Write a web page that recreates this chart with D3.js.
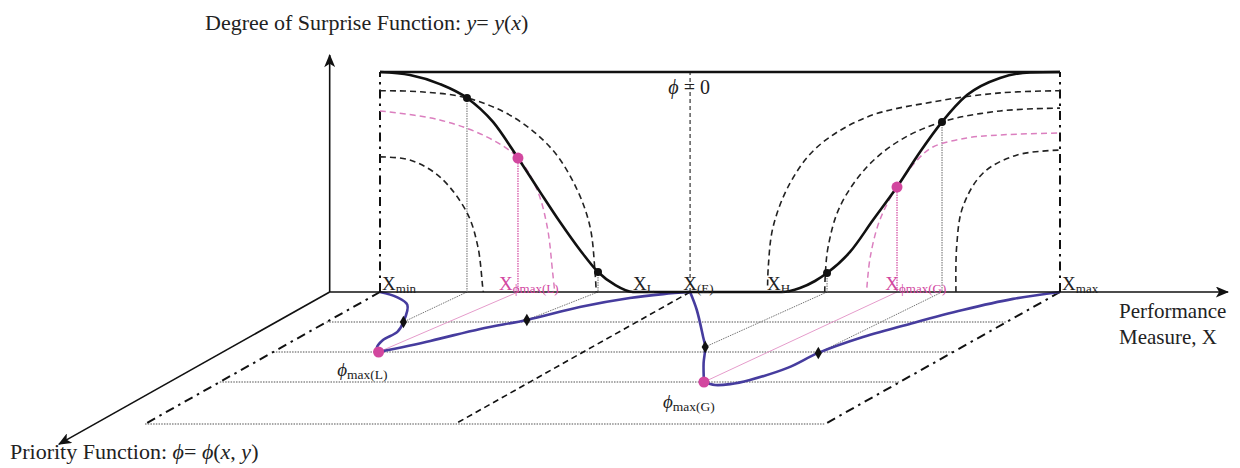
<!DOCTYPE html>
<html>
<head>
<meta charset="utf-8">
<script src="https://cdn.jsdelivr.net/npm/d3@7"></script>
<style>
  body { margin: 0; background: #fff; }
  text { font-family: "Liberation Serif", "Times New Roman", serif; fill: #222; }
</style>
</head>
<body>
<div id="chart"></div>
<script>
var svgWidth = 1240;
var svgHeight = 468;

// ---- data (performance measure x: Xmin = 0 .. Xmax = 100, surprise y: 0..1, priority depth phi) ----
var surpriseCurve = [[0,1],[4.41,0.986],[8.82,0.945],[12.79,0.882],[16.62,0.773],[20.29,0.609],[23.53,0.455],
  [26.47,0.318],[29.41,0.191],[32.06,0.091],[34.56,0.032],[37.2,0],[59.1,0],[61.76,0.018],[63.97,0.05],
  [65.74,0.086],[69.12,0.182],[72.5,0.327],[76.03,0.477],[79.41,0.636],[82.65,0.773],[86.32,0.895],
  [91.18,0.973],[95.59,0.998],[100,1]];

var dashedBlack = [
  [[0,0.915],[6,0.91],[12.8,0.882],[19.6,0.795],[25.4,0.645],[29,0.464],[30.9,0.295],[31.6,0.1],[31.8,0]],
  [[0,0.614],[4.4,0.6],[8.8,0.523],[12.8,0.36],[14.4,0.205],[15.1,0.023],[15.2,0]],
  [[57,0.03],[57.1,0.114],[57.8,0.295],[60.3,0.495],[64.3,0.659],[71.6,0.795],[81.3,0.864],[91.2,0.905],[100,0.915]],
  [[65.4,0],[65.5,0.086],[65.9,0.205],[67.6,0.386],[71.6,0.568],[76.5,0.69],[82.6,0.773],[91.2,0.823],[100,0.836]],
  [[84.7,0],[84.8,0.205],[85.7,0.386],[88.7,0.541],[93.7,0.623],[100,0.645]]
];
var dashedPink = [
  [[0,0.823],[8.8,0.782],[15.7,0.705],[20.3,0.609],[23.1,0.464],[24.6,0.295],[25.4,0.086],[25.7,0]],
  [[71.6,0.02],[72.1,0.16],[73.5,0.327],[76,0.477],[79,0.6],[81.3,0.659],[86.3,0.7],[91.2,0.714],[100,0.723]]
];

var blackDots = [[12.79,0.882],[32.06,0.091],[65.74,0.086],[82.65,0.773]];
var pinkDots = [[20.29,0.609],[76.03,0.477]];

var xMarks = [
  {sub: "min", x: 0.3, pink: false},
  {sub: "\u03d5max(L)", x: 17.5, pink: true},
  {sub: "L", x: 37.2, pink: false},
  {sub: "(E)", x: 44.6, pink: false},
  {sub: "H", x: 56.9, pink: false},
  {sub: "\u03d5max(G)", x: 74.3, pink: true},
  {sub: "max", x: 100.3, pink: false}
];
var xE = 45.6;

// floor (priority function) in [x, phi]
var phiGrid = [1, 2, 3, 4.4];
var phiEnd = 4.4;
var blueLeftDown = [[0,0],[3.8,0.17],[7.4,0.43],[11.3,1],[13,1.33],[13,1.6],[14.2,1.87],[15.5,2]];
var blueLeftUp = [[15.5,2],[20.2,1.63],[24.4,1.23],[28.9,0.93],[33.3,0.5],[38.3,0.2],[42.2,0.07],[45.6,0]];
var blueRightDown = [[45.6,0],[51.3,0.6],[59.3,1.5],[62.2,1.83],[66.2,2.37],[71.2,3]];
var blueRightUp = [[71.2,3],[73.6,3.1],[75.6,3.07],[77.4,2.93],[79.8,2.53],[80.4,2.03],[82.8,1.5],[86.5,1.03],
  [90.4,0.6],[94.9,0.23],[100,0]];
var floorDiamonds = [[11.3,1],[28.9,0.93],[62.2,1.83],[80.4,2.03]];
var floorPink = [[15.5,2],[71.2,3]];
// surface x -> floor point
var connectors = [
  {from: 12.79, to: [11.3,1], pink: false},
  {from: 20.29, to: [15.5,2], pink: true},
  {from: 32.06, to: [28.9,0.93], pink: false},
  {from: 65.74, to: [62.2,1.83], pink: false},
  {from: 76.03, to: [71.2,3], pink: true},
  {from: 82.65, to: [80.4,2.03], pink: false}
];
var phiMaxLabels = [{sub: "max(L)", at: [15.7, 2.8]}, {sub: "max(G)", at: [72, 3.87]}];

var axisOrigin = -7.4, axisXEnd = 124.7, axisYEnd = 1.077, axisPhiEnd = 5.07;

// ---- scales ----
var xScale = d3.scaleLinear().domain([0, 100]).range([380, 1060]);
var yScale = d3.scaleLinear().domain([0, 1]).range([292, 72]);
var phiScale = d3.scaleLinear().domain([0, 1]).range([0, 30]);
var slant = 1.78;

function floorPt(d) {
  var dy = phiScale(d[1]);
  return [xScale(d[0]) - slant * dy, yScale(0) + dy];
}
function surfPt(d) { return [xScale(d[0]), yScale(d[1])]; }

var svg = d3.select("#chart").append("svg")
  .attr("width", svgWidth)
  .attr("height", svgHeight);

svg.append("defs").append("marker")
  .attr("id", "arrow")
  .attr("viewBox", "0 -5 12 10")
  .attr("refX", 11).attr("refY", 0)
  .attr("markerUnits", "userSpaceOnUse")
  .attr("markerWidth", 14).attr("markerHeight", 11)
  .attr("orient", "auto")
  .append("path").attr("d", "M0,-5L12,0L0,5L3,0Z").attr("fill", "#111");

var smooth = d3.line().curve(d3.curveCatmullRom.alpha(0.5));
var mono = d3.line().curve(d3.curveMonotoneX);
var straight = d3.line();

var pink = "#d2479f";

// ---- floor ----
var floor = svg.append("g");
phiGrid.forEach(function(p) {
  floor.append("path")
    .attr("d", straight([floorPt([0, p]), floorPt([100, p])]))
    .attr("stroke", "#8a8a8a").attr("stroke-width", 1.3)
    .attr("stroke-dasharray", "1.5,1.2").attr("fill", "none");
});
[0, 100].forEach(function(x) {
  floor.append("path")
    .attr("d", straight([floorPt([x, 0]), floorPt([x, phiEnd])]))
    .attr("stroke", "#111").attr("stroke-width", 2)
    .attr("stroke-dasharray", "9,5,2.5,5").attr("fill", "none");
});
floor.append("path")
  .attr("d", straight([floorPt([xE, 0]), floorPt([xE, phiEnd])]))
  .attr("stroke", "#111").attr("stroke-width", 1.6)
  .attr("stroke-dasharray", "6,4").attr("fill", "none");

connectors.forEach(function(c) {
  floor.append("path")
    .attr("d", straight([floorPt([c.from, 0]), floorPt(c.to)]))
    .attr("stroke", c.pink ? "#e59ccb" : "#777")
    .attr("stroke-width", 1)
    .attr("stroke-dasharray", c.pink ? null : "1.5,1")
    .attr("fill", "none");
});

// ---- axes ----
var axes = svg.append("g");
axes.append("path")
  .attr("d", straight([surfPt([axisOrigin, 0]), surfPt([axisXEnd, 0])]))
  .attr("stroke", "#111").attr("stroke-width", 1.6).attr("marker-end", "url(#arrow)");
axes.append("path")
  .attr("d", straight([surfPt([axisOrigin, 0]), surfPt([axisOrigin, axisYEnd])]))
  .attr("stroke", "#111").attr("stroke-width", 1.6).attr("marker-end", "url(#arrow)");
axes.append("path")
  .attr("d", straight([floorPt([axisOrigin, 0]), floorPt([axisOrigin, axisPhiEnd])]))
  .attr("stroke", "#111").attr("stroke-width", 1.6).attr("marker-end", "url(#arrow)");

// ---- surface (degree of surprise) ----
var surf = svg.append("g");
[0, 100].forEach(function(x) {
  surf.append("path")
    .attr("d", straight([surfPt([x, 0]), surfPt([x, 1])]))
    .attr("stroke", "#111").attr("stroke-width", 2)
    .attr("stroke-dasharray", "9,5,2.5,5").attr("fill", "none");
});
surf.append("path")
  .attr("d", straight([surfPt([xE, 0]), surfPt([xE, 1])]))
  .attr("stroke", "#333").attr("stroke-width", 1.2)
  .attr("stroke-dasharray", "4,3").attr("fill", "none");

blackDots.forEach(function(d) {
  surf.append("path")
    .attr("d", straight([surfPt(d), surfPt([d[0], 0])]))
    .attr("stroke", "#777").attr("stroke-width", 1.1)
    .attr("stroke-dasharray", "1.5,1").attr("fill", "none");
});
pinkDots.forEach(function(d) {
  surf.append("path")
    .attr("d", straight([surfPt(d), surfPt([d[0], 0])]))
    .attr("stroke", pink).attr("stroke-width", 1.2)
    .attr("stroke-dasharray", "1.5,1").attr("fill", "none");
});

dashedBlack.forEach(function(c) {
  surf.append("path")
    .attr("d", smooth(c.map(surfPt)))
    .attr("stroke", "#222").attr("stroke-width", 1.6)
    .attr("stroke-dasharray", "6,4").attr("fill", "none");
});
dashedPink.forEach(function(c) {
  surf.append("path")
    .attr("d", smooth(c.map(surfPt)))
    .attr("stroke", "#db7fbf").attr("stroke-width", 1.5)
    .attr("stroke-dasharray", "6,4").attr("fill", "none");
});

surf.append("path")
  .attr("d", straight([surfPt([0, 1]), surfPt([100, 1])]))
  .attr("stroke", "#111").attr("stroke-width", 2.6);
surf.append("path")
  .attr("d", mono(surpriseCurve.map(surfPt)))
  .attr("stroke", "#111").attr("stroke-width", 2.6).attr("fill", "none");

surf.selectAll(".bdot").data(blackDots).enter().append("circle")
  .attr("cx", d => xScale(d[0])).attr("cy", d => yScale(d[1]))
  .attr("r", 4).attr("fill", "#111");
surf.selectAll(".pdot").data(pinkDots).enter().append("circle")
  .attr("cx", d => xScale(d[0])).attr("cy", d => yScale(d[1]))
  .attr("r", 5.5).attr("fill", pink);

// ---- blue priority curves on the floor ----
[blueLeftDown, blueLeftUp, blueRightDown, blueRightUp].forEach(function(c) {
  floor.append("path")
    .attr("d", smooth(c.map(floorPt)))
    .attr("stroke", "#463c9e").attr("stroke-width", 2.6)
    .attr("stroke-linejoin", "round").attr("fill", "none");
});
floor.selectAll(".dia").data(floorDiamonds).enter().append("path")
  .attr("d", d3.symbol(d3.symbolDiamond).size(45))
  .attr("transform", d => "translate(" + floorPt(d) + ")")
  .attr("fill", "#111");
floor.selectAll(".fpink").data(floorPink).enter().append("circle")
  .attr("cx", d => floorPt(d)[0]).attr("cy", d => floorPt(d)[1])
  .attr("r", 5.5).attr("fill", pink);

// ---- labels ----
var labels = svg.append("g");
xMarks.forEach(function(m) {
  var col = m.pink ? pink : "#222";
  var t = labels.append("text")
    .attr("x", xScale(m.x)).attr("y", 290)
    .style("font-size", "19px");
  t.append("tspan").text("X").style("fill", col);
  t.append("tspan").text(m.sub).attr("dy", 3)
    .style("font-size", "13px").style("fill", col);
});

var phi0 = labels.append("text").attr("x", xScale(42.4)).attr("y", 94).style("font-size", "20px");
phi0.append("tspan").text("\u03d5").style("font-style", "italic");
phi0.append("tspan").text(" = 0");

phiMaxLabels.forEach(function(l) {
  var p = floorPt(l.at);
  var t = labels.append("text").attr("x", p[0]).attr("y", p[1]).style("font-size", "19px");
  t.append("tspan").text("\u03d5").style("font-style", "italic");
  t.append("tspan").text(l.sub).attr("dy", 3).style("font-size", "13.5px");
});

var title = labels.append("text").attr("x", 205).attr("y", 30).style("font-size", "22px");
title.append("tspan").text("Degree of Surprise Function: ");
title.append("tspan").text("y").style("font-style", "italic");
title.append("tspan").text("= ");
title.append("tspan").text("y").style("font-style", "italic");
title.append("tspan").text("(");
title.append("tspan").text("x").style("font-style", "italic");
title.append("tspan").text(")");

var pr = labels.append("text").attr("x", 10).attr("y", 459).style("font-size", "22px");
pr.append("tspan").text("Priority Function: ");
pr.append("tspan").text("\u03d5").style("font-style", "italic");
pr.append("tspan").text("= ");
pr.append("tspan").text("\u03d5").style("font-style", "italic");
pr.append("tspan").text("(");
pr.append("tspan").text("x").style("font-style", "italic");
pr.append("tspan").text(", ");
pr.append("tspan").text("y").style("font-style", "italic");
pr.append("tspan").text(")");

labels.append("text").attr("x", 1119).attr("y", 318).style("font-size", "21px").text("Performance");
labels.append("text").attr("x", 1119).attr("y", 344).style("font-size", "21px").text("Measure, X");
</script>
</body>
</html>
